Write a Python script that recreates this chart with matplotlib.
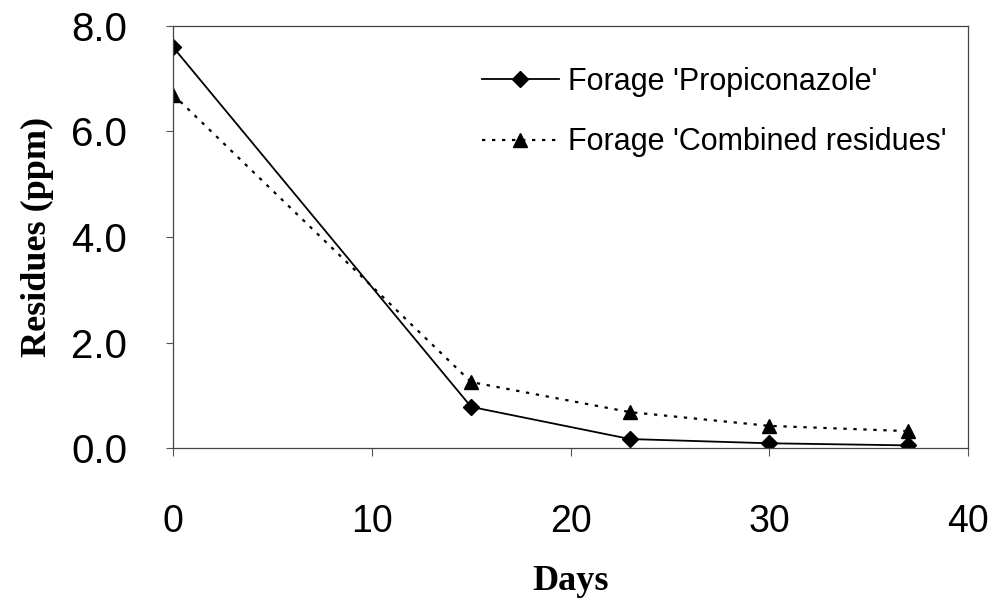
import matplotlib
matplotlib.use("Agg")
import matplotlib.pyplot as plt

days = [0, 15, 23, 30, 37]
propiconazole = [7.6, 0.78, 0.17, 0.09, 0.05]
combined = [6.7, 1.25, 0.68, 0.42, 0.32]
x_ticks = [0, 10, 20, 30, 40]
y_ticks = [0.0, 2.0, 4.0, 6.0, 8.0]
y_tick_labels = ["0.0", "2.0", "4.0", "6.0", "8.0"]
label_prop = "Forage 'Propiconazole'"
label_comb = "Forage 'Combined residues'"

fig = plt.figure(figsize=(9.97, 6.03), dpi=100)
ax = fig.add_axes([0.1735, 0.257, 0.7975, 0.700])

ax.plot(days, propiconazole, color="black", linewidth=1.3, marker="D",
        markersize=8, label=label_prop)
ax.plot(days, combined, color="black", linewidth=1.6, linestyle=(0, (1.5, 3)),
        marker="^", markersize=10, label=label_comb)

ax.set_xlim(0, 40)
ax.set_ylim(0, 8)
ax.set_xticks(x_ticks)
ax.set_xticklabels([str(t) for t in x_ticks], fontsize=27, family="Liberation Sans")
ax.set_yticks(y_ticks)
ax.set_yticklabels(y_tick_labels, fontsize=29, family="Liberation Sans")
ax.tick_params(axis="x", direction="out", length=6, width=0.8, color="#555555", pad=34)
ax.tick_params(axis="y", direction="out", length=5, width=0.8, color="#555555", pad=28)

for s in ax.spines.values():
    s.set_linewidth(0.9)
    s.set_color("#444444")

ax.set_xlabel("Days", fontsize=26, family="Liberation Serif", fontweight="bold", labelpad=18)
ax.set_ylabel("Residues (ppm)", fontsize=26, family="Liberation Serif", fontweight="bold", labelpad=12)

leg = ax.legend(loc="upper left", bbox_to_anchor=(0.389, 0.903), frameon=False,
                prop={"family": "Liberation Sans", "size": 22}, handlelength=2.5,
                handletextpad=0.3, labelspacing=1.0, borderpad=0, borderaxespad=0)

fig.savefig("out.png", dpi=100)
